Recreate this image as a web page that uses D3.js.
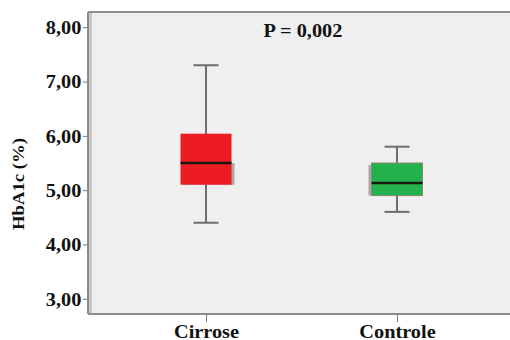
<!DOCTYPE html>
<html>
<head>
<meta charset="utf-8">
<script src="https://cdn.jsdelivr.net/npm/d3@7"></script>
<style>
  body { margin: 0; background: #fff; }
  text { font-family: "Liberation Serif", "Times New Roman", serif; font-weight: bold; fill: #111; }
</style>
</head>
<body>
<script>
// box plot data
var groups = ["Cirrose", "Controle"];
var whiskerLow = [4.40, 4.60];
var q1 = [5.10, 4.90];
var median = [5.50, 5.13];
var q3 = [6.04, 5.50];
var whiskerHigh = [7.30, 5.80];
var colors = ["#ED1C24", "#22B14C"];
var yTicks = [3, 4, 5, 6, 7, 8];
var pLabel = "P = 0,002";

var w = 510, h = 340;
var pLeft = 88, pTop = 12, pRight = 510, pBottom = 314;

var svg = d3.select("body").append("svg").attr("width", w).attr("height", h);

var y = d3.scaleLinear().domain([2.72, 8.28]).range([pBottom, pTop]);
var x = d3.scalePoint().domain(groups).range([206, 397]);

// plot background + frame
svg.append("rect").attr("x", pLeft).attr("y", pTop).attr("width", pRight - pLeft).attr("height", pBottom - pTop)
  .attr("fill", "#EFEFEF");
svg.append("rect").attr("x", pLeft).attr("y", pTop).attr("width", 4).attr("height", pBottom - pTop)
  .attr("fill", "#C8C8C8");
svg.append("line").attr("x1", pLeft).attr("x2", pRight).attr("y1", pTop).attr("y2", pTop)
  .attr("stroke", "#8C8C8C").attr("stroke-width", 2);
svg.append("line").attr("x1", pLeft).attr("x2", pLeft).attr("y1", pTop).attr("y2", pBottom)
  .attr("stroke", "#8C8C8C").attr("stroke-width", 2);
svg.append("line").attr("x1", pLeft).attr("x2", pRight).attr("y1", pBottom).attr("y2", pBottom)
  .attr("stroke", "#8C8C8C").attr("stroke-width", 2);

// y axis
var yAxis = svg.append("g").attr("transform", "translate(" + (pLeft - 1) + ",0)")
  .call(d3.axisLeft(y).tickValues(yTicks).tickSize(4).tickFormat(function (d) { return d3.format(".2f")(d).replace(".", ","); }));
yAxis.select(".domain").remove();
yAxis.selectAll("line").attr("stroke", "#777");
yAxis.selectAll("text").attr("font-size", 18).attr("x", -5)
  .attr("transform", "scale(1.13,1)")
  .attr("dy", "0.35em");

// x axis
var xAxis = svg.append("g").attr("transform", "translate(0," + (pBottom + 1) + ")")
  .call(d3.axisBottom(x).tickSize(7).tickPadding(4));
xAxis.select(".domain").remove();
xAxis.selectAll("line").attr("stroke", "#777");
xAxis.selectAll("text").attr("font-size", 18).attr("dy", "0.65em")
  .attr("transform", "scale(1.13,1)");

// y axis title
svg.append("text").attr("font-size", 17)
  .attr("transform", "translate(24,184) rotate(-90) scale(1.1,1)")
  .attr("text-anchor", "middle").text("HbA1c (%)");

// p value
svg.append("text").attr("font-size", 18).attr("text-anchor", "middle")
  .attr("transform", "translate(303,37) scale(1.13,1)").text(pLabel);

// boxes
var boxW = 51, capW = 25;
var g = svg.selectAll(".box").data(groups).enter().append("g").attr("class", "box");

g.append("line").attr("x1", function (d) { return x(d); }).attr("x2", function (d) { return x(d); })
  .attr("y1", function (d, i) { return y(whiskerHigh[i]); }).attr("y2", function (d, i) { return y(whiskerLow[i]); })
  .attr("stroke", "#6E6E6E").attr("stroke-width", 2);
g.selectAll(".cap").data(function (d, i) { return [[d, whiskerLow[i]], [d, whiskerHigh[i]]]; }).enter().append("line")
  .attr("x1", function (d) { return x(d[0]) - capW / 2; }).attr("x2", function (d) { return x(d[0]) + capW / 2; })
  .attr("y1", function (d) { return y(d[1]); }).attr("y2", function (d) { return y(d[1]); })
  .attr("stroke", "#6E6E6E").attr("stroke-width", 2);

// shadow
g.append("rect")
  .attr("x", function (d, i) { return i == 0 ? x(d) - boxW / 2 + 3 : x(d) - boxW / 2 - 3; })
  .attr("y", function (d, i) { return i == 0 ? y(median[i]) : y(q3[i]) + 2; })
  .attr("width", boxW).attr("height", function (d, i) { return i == 0 ? y(q1[i]) - y(median[i]) : y(q1[i]) - y(q3[i]) - 2; })
  .attr("fill", "#A8A8A8");

g.append("rect").attr("x", function (d) { return x(d) - boxW / 2; })
  .attr("y", function (d, i) { return y(q3[i]); })
  .attr("width", boxW).attr("height", function (d, i) { return y(q1[i]) - y(q3[i]); })
  .attr("fill", function (d, i) { return colors[i]; })
  .attr("stroke", function (d, i) { return i == 0 ? "none" : "#8A8A70"; }).attr("stroke-width", 1);

g.append("line").attr("x1", function (d) { return x(d) - boxW / 2; }).attr("x2", function (d) { return x(d) + boxW / 2; })
  .attr("y1", function (d, i) { return y(median[i]); }).attr("y2", function (d, i) { return y(median[i]); })
  .attr("stroke", "#1A1A10").attr("stroke-width", 2.5);
</script>
</body>
</html>
